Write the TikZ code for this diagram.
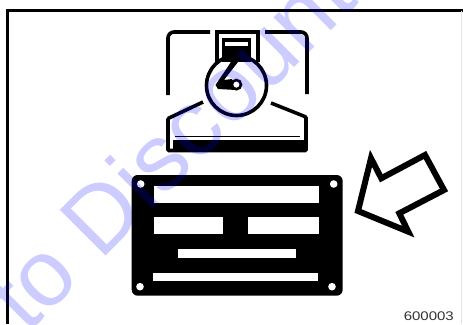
\documentclass[tikz,border=0pt]{standalone}
\usepackage{fontspec}
\setmainfont{Liberation Sans}
\newfontfamily\codefont[FakeStretch=1.2]{Liberation Sans}
\usepackage{tikz}
\begin{document}
\begin{tikzpicture}[
    x=1pt, y=-1pt,
    line/.style={line width=3.6pt, line join=miter},
    frameline/.style={line width=2.6pt},
    slot/.style={fill=white},
    hole/.style={fill=white},
    stamp/.style={font=\fontsize{94}{94}\selectfont, text=blue, text opacity=0.2, rotate=45, anchor=base west, inner sep=0pt},
    code/.style={font=\codefont\fontsize{12.5}{12.5}\selectfont, text=black!80, anchor=base east, inner sep=0pt}
]
\useasboundingbox (0,0) rectangle (463,324);
\clip (0,0) rectangle (463,324);

% frame
\draw[frameline] (7.5,324) -- (7.5,10.5) -- (463,10.5);
\draw[line width=0.6pt, black!10] (461.7,10.5) -- (461.7,324);

% engine housing
\draw[line, rounded corners=6pt] (168,95) -- (168,32) -- (210,32);
\draw[line, rounded corners=6pt] (265,32) -- (307,32) -- (307,94);
\draw[line] (217,62) -- (217,32) -- (258,32) -- (258,62);
\draw[line, rounded corners=1pt] (203,102) -- (168,118.5) -- (168,150.5) -- (306,150.5) -- (306,117) -- (271,103);

% base bar
\fill (173,140) rectangle (304,151);
\draw[line width=0.8pt] (175,136.8) -- (300,136.8);

% cylinder block
\fill (222,38) rectangle (251,62);
\fill[white] (225,42) rectangle (248,46);

% flywheel and crank
\draw[line] (236.5,85.5) circle (30);
\fill (215.5,85) -- (231,62) -- (238,62) -- (224,80) -- (232,79) -- (236,90) -- (218,89) -- cycle;
\draw[line width=2.6pt, fill=white] (236.4,84.6) circle (4.6);

% plate
\fill[rounded corners=6pt] (131.7,175) rectangle (342.7,295.7);
\fill[slot] (154,186) rectangle (319,203.3);
\fill[slot] (154,217.3) rectangle (223.3,233.7);
\fill[slot] (248.3,217) rectangle (318.7,233.7);
\fill[slot] (177.7,249.3) rectangle (296.3,258.3);
\fill[slot] (152.7,272.7) rectangle (317.7,281.3);
\foreach \hx/\hy in {140.7/184, 333.7/184, 140/286.7, 332/286.7}
    \fill[hole] (\hx,\hy) circle (3.8);

% arrow
\draw[line width=6pt, miter limit=10] (358,211) -- (371,158.3) -- (381.3,178.3) -- (425,155) -- (444,190) -- (399.3,213.3) -- (408.3,231.7) -- cycle;

\node[code] (partno) at (454,320.7) {600003};

\node[stamp] (stamp) at (27,335) {to Discount};
\end{tikzpicture}
\end{document}
